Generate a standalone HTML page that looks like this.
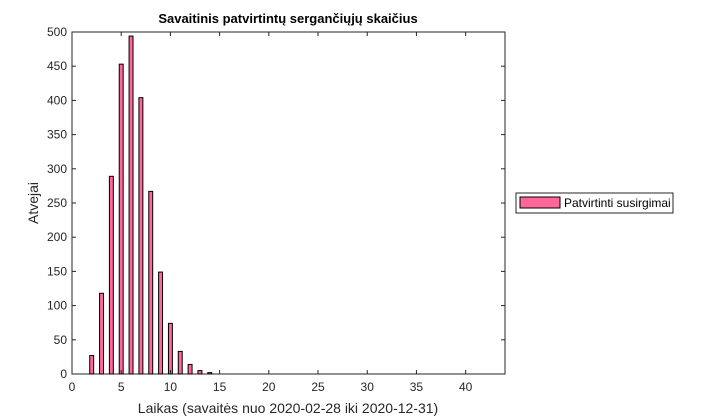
<!DOCTYPE html>
<html><head><meta charset="utf-8"><style>body{margin:0;background:#fff}svg{display:block;font-family:"Liberation Sans",Arial,sans-serif}</style></head>
<body>
<svg id="c" width="728" height="420"></svg>
<script>
const weeks=[1,2,3,4,5,6,7,8,9,10,11,12,13,14,15];
const cases=[0,27,118,289,453,494,404,267,149,74,33,14,5,2,0];
const xTicks=[0,5,10,15,20,25,30,35,40];
const yTicks=[0,50,100,150,200,250,300,350,400,450,500];
const L=72,R=505,T=32,B=374,xMax=44,yMax=500;
const sx=v=>L+v*(R-L)/xMax, sy=v=>B-v*(B-T)/yMax;
const s=document.getElementById('c');const NS='http://www.w3.org/2000/svg';
function mk(t,a,txt){const e=document.createElementNS(NS,t);for(const k in a)e.setAttribute(k,a[k]);if(txt!=null)e.textContent=txt;s.appendChild(e);return e;}
let e;
e=mk('rect',{x:L,y:T,width:R-L,height:B-T,fill:'#fff',stroke:'#262626','stroke-width':1});

weeks.forEach((w,i)=>{if(cases[i]<=0)return;const bw=0.4*(R-L)/xMax;
const r=mk('rect',{x:sx(w)-bw/2,y:sy(cases[i]),width:bw,height:B-sy(cases[i]),fill:'#ff6699',stroke:'#000','stroke-width':1});
});
xTicks.forEach(t=>{const x=sx(t);mk('line',{x1:x,x2:x,y1:B,y2:B-4,stroke:'#262626'});mk('line',{x1:x,x2:x,y1:T,y2:T+4,stroke:'#262626'});
const l=mk('text',{x:x,y:B+17,'text-anchor':'middle','font-size':12,fill:'#262626'},t);
});
yTicks.forEach(t=>{const y=sy(t);mk('line',{x1:L,x2:L+4,y1:y,y2:y,stroke:'#262626'});mk('line',{x1:R,x2:R-4,y1:y,y2:y,stroke:'#262626'});
const l=mk('text',{x:L-5,y:y+4,'text-anchor':'end','font-size':12,fill:'#262626'},t);
});
e=mk('text',{x:288,y:23,'text-anchor':'middle','font-size':13,'font-weight':'bold',fill:'#000'},'Savaitinis patvirtintų sergančiųjų skaičius');

e=mk('text',{x:288,y:413,'text-anchor':'middle','font-size':14,fill:'#262626'},'Laikas (savaitės nuo 2020-02-28 iki 2020-12-31)');

e=mk('text',{x:38,y:203,'text-anchor':'middle','font-size':14,fill:'#262626',transform:'rotate(-90 38 203)'},'Atvejai');

e=mk('rect',{x:516,y:193,width:157,height:20,fill:'#fff',stroke:'#262626'});

e=mk('rect',{x:520,y:197,width:40,height:11,fill:'#ff6699',stroke:'#000'});

e=mk('text',{x:564,y:207,'font-size':12,fill:'#000'},'Patvirtinti susirgimai');

</script>
</body></html>
